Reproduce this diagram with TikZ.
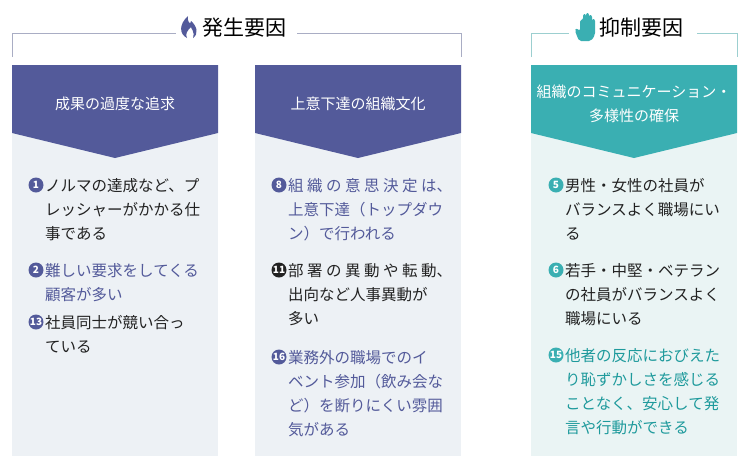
\documentclass[tikz,border=0pt]{standalone}
\usepackage{fontspec}
\setmainfont{Noto Sans CJK JP}
\definecolor{pur}{HTML}{535A9A}
\definecolor{tea}{HTML}{3AAFB2}
\definecolor{teatx}{HTML}{1E9A9C}
\definecolor{bgp}{HTML}{EDF1F5}
\definecolor{bgt}{HTML}{EAF4F4}
\definecolor{txt}{HTML}{222222}
\definecolor{brk}{HTML}{A9ADC4}
\definecolor{brkt}{HTML}{9CCFD0}
\newcommand{\bline}[4]{\node[bodytxt,text=#3] at (#1,#2) {#4};}
\newcommand{\bnum}[4]{\node[numc,fill=#3] at (#1,#2) {#4};}
\tikzset{
  bodytxt/.style={anchor=base west,inner sep=0pt,font=\fontsize{15.5}{18}\selectfont},
  numc/.style={circle,inner sep=0pt,minimum size=15pt,text=white,font=\fontsize{10}{10}\selectfont\bfseries},
  headtxt/.style={text=white,align=center,font=\fontsize{15}{24}\selectfont},
  titletxt/.style={anchor=west,inner sep=0pt,font=\fontsize{21}{22}\selectfont},
}
\begin{document}
\begin{tikzpicture}[x=1pt,y=-1pt]
\useasboundingbox (0,0) rectangle (750,464);
% brackets
\draw[brk,line width=0.8pt] (12,57) -- (12,33) -- (461,33) -- (461,57);
\draw[brkt,line width=0.8pt] (531,57) -- (531,33) -- (737,33) -- (737,57);
\fill[white] (176,18) rectangle (297,45);
\fill[white] (569,18) rectangle (697,45);
% flame
\fill[pur] (187,38) .. controls (179,34) and (179,24) .. (188,16) .. controls (187,23) and (191,25) .. (191,21) .. controls (197,26) and (199,34) .. (193,38) .. controls (195,31) and (191,29) .. (191,27) .. controls (187,31) and (185,34) .. (187,38) -- cycle;
\node[titletxt] (t1) at (202,28) {発生要因};
% hand
\fill[tea,rounded corners=2pt] (579,41) -- (575,31) -- (576,28) -- (580,31) -- (580,20) -- (583,20) -- (583,14) -- (586,14) -- (586,20) -- (586,13) -- (589,13) -- (589,20) -- (589,15) -- (592,15) -- (592,23) -- (592,19) -- (595,19) -- (595,35) -- (591,41) -- cycle;
\node[titletxt] (t2) at (599,28) {抑制要因};
% columns
\fill[bgp] (12,65) rectangle (218,456);
\fill[bgp] (255,65) rectangle (461,456);
\fill[bgt] (531,65) rectangle (737,456);
\fill[pur] (12,65) -- (218,65) -- (218,133) -- (115,158) -- (12,133) -- cycle;
\fill[pur] (255,65) -- (461,65) -- (461,133) -- (358,158) -- (255,133) -- cycle;
\fill[tea] (531,65) -- (737,65) -- (737,133) -- (634,158) -- (531,133) -- cycle;
\node[headtxt] (h1) at (115,104) {成果の過度な追求};
\node[headtxt] (h2) at (358,104) {上意下達の組織文化};
\node[headtxt] (h3) at (634,104) {組織のコミュニケーション・\\多様性の確保};
% column 1
\bnum{36}{185}{pur}{1}
\bline{45}{191}{txt}{ノルマの達成など、プ}
\bline{45}{215}{txt}{レッシャーがかかる仕}
\bline{45}{239}{txt}{事である}
\bnum{36}{270}{pur}{2}
\bline{45}{276}{pur}{難しい要求をしてくる}
\bline{45}{300}{pur}{顧客が多い}
\bnum{36}{322}{pur}{13}
\bline{45}{328}{txt}{社員同士が競い合っ}
\bline{45}{352}{txt}{ている}
% column 2
\bnum{279}{185}{pur}{8}
\bline{288}{191}{pur}{組 織 の 意 思 決 定 は、}
\bline{288}{215}{pur}{上意下達（トップダウ}
\bline{288}{239}{pur}{ン）で行われる}
\bnum{279}{270}{txt}{11}
\bline{288}{276}{txt}{部 署 の 異 動 や 転 動、}
\bline{288}{300}{txt}{出向など人事異動が}
\bline{288}{324}{txt}{多い}
\bnum{279}{357}{pur}{16}
\bline{288}{363}{pur}{業務外の職場でのイ}
\bline{288}{387}{pur}{ベント参加（飲み会な}
\bline{288}{411}{pur}{ど）を断りにくい雰囲}
\bline{288}{435}{pur}{気がある}
% column 3
\bnum{556}{185}{tea}{5}
\bline{565}{191}{txt}{男性・女性の社員が}
\bline{565}{215}{txt}{バランスよく職場にい}
\bline{565}{239}{txt}{る}
\bnum{556}{270}{tea}{6}
\bline{565}{276}{txt}{若手・中堅・ベテラン}
\bline{565}{300}{txt}{の社員がバランスよく}
\bline{565}{324}{txt}{職場にいる}
\bnum{556}{355}{tea}{15}
\bline{565}{361}{teatx}{他者の反応におびえた}
\bline{565}{385}{teatx}{り恥ずかしさを感じる}
\bline{565}{409}{teatx}{ことなく、安心して発}
\bline{565}{433}{teatx}{言や行動ができる}
\end{tikzpicture}
\end{document}
